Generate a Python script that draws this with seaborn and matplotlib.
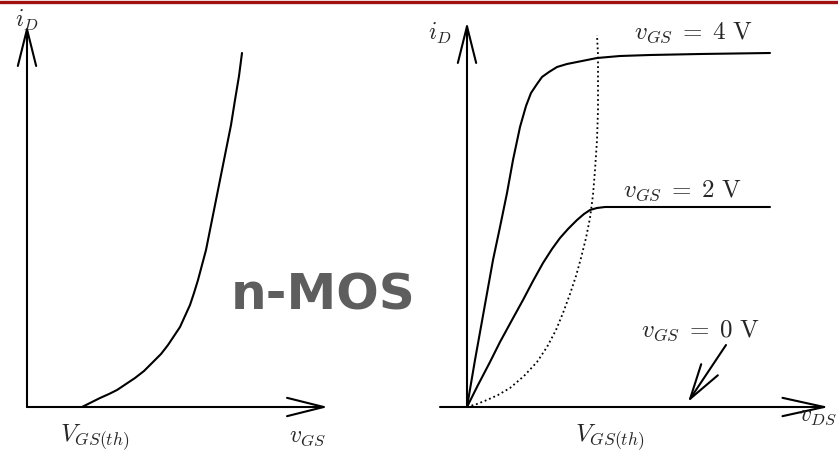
import matplotlib
matplotlib.use("Agg")
import matplotlib.pyplot as plt
import seaborn as sns
import pandas as pd
from matplotlib.lines import Line2D

sns.set_theme(style="white")
plt.rcParams["mathtext.fontset"] = "cm"
plt.rcParams["font.family"] = ["DejaVu Sans"]

# Transfer characteristic (arbitrary units): i_D versus v_GS above threshold
transfer_vgs = [55, 65, 73, 82, 90, 99, 108, 117, 126, 134, 141, 147, 153, 158,
                163, 167, 171, 175, 179, 184, 189, 194, 199, 204, 208, 212, 215]
transfer_id = [0, 5, 9, 13, 17, 23, 29, 36, 45, 53, 62, 71, 80, 91,
               102, 114, 127, 142, 157, 182, 207, 232, 257, 282, 307, 331, 354]

# Output characteristics (arbitrary units): i_D versus v_DS
out4_vds = [0, 8, 17, 26, 33, 40, 46, 53, 59, 64, 70, 75, 82, 90, 100, 110,
            130, 153, 183, 233, 303]
out4_id = [0, 47, 97, 147, 180, 214, 247, 280, 301, 314, 323, 330, 335, 340,
           343, 345, 349, 351, 352, 353, 354]
out2_vds = [0, 11, 23, 33, 45, 56, 66, 76, 85, 93, 101, 110, 117, 123, 130, 138, 303]
out2_id = [0, 22, 45, 65, 87, 107, 126, 144, 158, 169, 178, 187, 193, 197, 199, 200, 200]
# Boundary between the triode and saturation regions
edge_vds = [0, 10, 20, 31, 43, 57, 70, 80, 89, 96, 103, 109, 114, 119, 123,
            126, 128, 130, 131, 131, 131, 130]
edge_id = [0, 3, 7, 12, 19, 31, 45, 60, 77, 94, 113, 131, 149, 169, 189,
           212, 237, 267, 297, 327, 352, 372]

curve_labels = [r"$v_{GS}\;=\;4\ \mathrm{V}$", r"$v_{GS}\;=\;2\ \mathrm{V}$",
                r"$v_{GS}\;=\;0\ \mathrm{V}$"]

W, H = 838, 457
fig = plt.figure(figsize=(W / 100, H / 100), dpi=100)
fig.patch.set_facecolor("white")

# Dark red rule along the top edge
fig.add_artist(Line2D([0, 1], [1 - 1.5 / H, 1 - 1.5 / H], transform=fig.transFigure,
                      color="#a01010", lw=2.4))

axL = fig.add_axes([0, 0, 420 / W, 1])
axR = fig.add_axes([420 / W, 0, 418 / W, 1])
axL.set_xlim(-27, 393)
axL.set_ylim(-50, 407)
axR.set_xlim(-47, 371)
axR.set_ylim(-50, 407)
for ax in (axL, axR):
    ax.axis("off")

lw = 1.5
ink = "black"
line_kw = dict(solid_joinstyle="round", solid_capstyle="round")


def arrow(ax, tail, tip, hl=2.2, hw=0.55):
    ax.annotate("", xy=tip, xytext=tail, annotation_clip=False,
                arrowprops=dict(arrowstyle=f"->,head_length={hl},head_width={hw}",
                                color=ink, lw=lw, shrinkA=0, shrinkB=0))


# Left panel axes
arrow(axL, (0, 0), (0, 382))
arrow(axL, (0, 0), (301, 0))
sns.lineplot(x=transfer_vgs, y=transfer_id, ax=axL, color=ink, lw=lw,
             estimator=None, sort=False, **line_kw)

axL.text(0, 387, r"$i_D$", fontsize=17, ha="center", va="center")
axL.text(68, -31, r"$V_{GS(th)}$", fontsize=18, ha="center", va="center")
axL.text(281, -29, r"$v_{GS}$", fontsize=17, ha="center", va="center")
axL.text(296, 112, "n-MOS", fontsize=36, fontweight="bold", color="#5e5e5e",
         ha="center", va="center", clip_on=False)

# Right panel axes
arrow(axR, (-27, 0), (362, 0), hl=2.5)
arrow(axR, (0, 0), (0, 385))
df = pd.DataFrame({
    "vds": out4_vds + out2_vds,
    "id": out4_id + out2_id,
    "curve": ["4"] * len(out4_vds) + ["2"] * len(out2_vds),
})
sns.lineplot(data=df, x="vds", y="id", units="curve", estimator=None, sort=False,
             color=ink, lw=lw, ax=axR, **line_kw)
sns.lineplot(x=edge_vds, y=edge_id, ax=axR, color=ink, lw=1.3, ls=(0, (1, 1.6)),
             estimator=None, sort=False)
arrow(axR, (259, 62), (221, 5), hl=2.1, hw=0.6)

axR.text(-27, 374, r"$i_D$", fontsize=17, ha="center", va="center")
axR.text(226, 374, curve_labels[0], fontsize=18, ha="center", va="center")
axR.text(215, 216, curve_labels[1], fontsize=18, ha="center", va="center")
axR.text(233, 76, curve_labels[2], fontsize=18, ha="center", va="center")
axR.text(143, -31, r"$V_{GS(th)}$", fontsize=18, ha="center", va="center")
axR.text(332, -8, r"$v_{DS}$", fontsize=17, ha="left", va="center", clip_on=False)

fig.savefig("out.png", dpi=100, facecolor="white")
